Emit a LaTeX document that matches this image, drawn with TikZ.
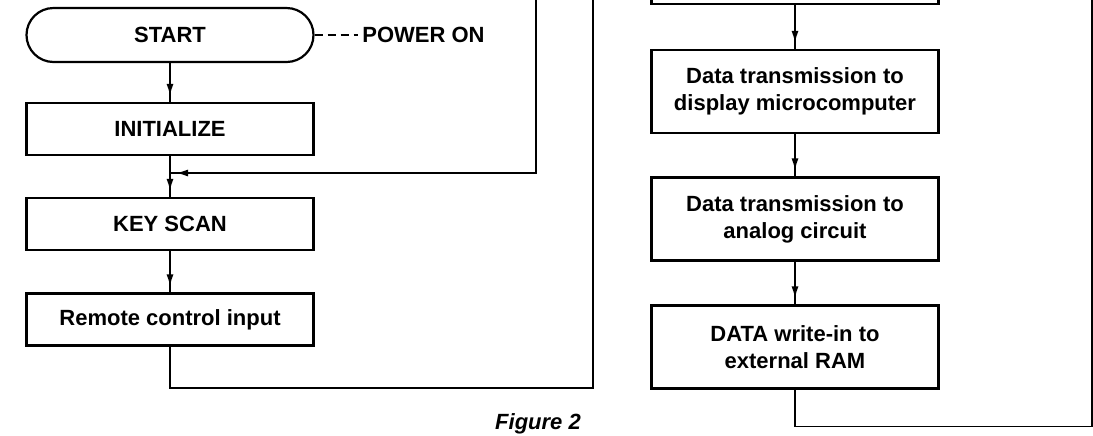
\documentclass[tikz,border=0pt]{standalone}
\usepackage{fontspec}
\setmainfont{Liberation Sans}
\usetikzlibrary{arrows.meta, positioning, decorations.markings}

\begin{document}
\begin{tikzpicture}[
    x=0.5pt, y=-0.5pt,
    box/.style={draw, line width=1.1pt, minimum width=143.5pt, minimum height=26pt, inner sep=0pt, align=center, font=\fontsize{11}{13.5}\selectfont\bfseries},
    tallbox/.style={box, minimum height=41.5pt},
    term/.style={box, rounded corners=13.5pt, minimum height=27pt},
    flow/.style={line width=0.8pt, postaction={decorate}, decoration={markings, mark=at position -3pt with {\arrow{Latex[length=6pt, width=3.5pt]}}}},
    link/.style={line width=0.8pt},
]
\useasboundingbox (0,0) rectangle (1093,435);

% left column
\node[term] (start) at (170, 35) {START};
\node[box] (init) at (170, 129) {INITIALIZE};
\node[box] (scan) at (170, 224) {KEY SCAN};
\node[box] (remote) at (170, 319.5) {Remote control input};
\node[anchor=west, inner sep=2pt, font=\fontsize{11}{13.5}\selectfont\bfseries] (power) at (358, 35) {POWER ON};

% right column
\node[tallbox] (prev) at (795, -37.5) {};
\node[tallbox] (disp) at (795, 91.5) {Data transmission to\\display microcomputer};
\node[tallbox] (analog) at (795, 219) {Data transmission to\\analog circuit};
\node[tallbox] (ram) at (795, 347) {DATA write-in to\\external RAM};

\node[anchor=base, font=\fontsize{11}{13.5}\selectfont\bfseries\itshape] (caption) at (538, 429) {Figure 2};

\coordinate (join) at (170, 173);
\coordinate (loopin) at (536, -10);
\coordinate (loopout) at (593, -10);
\coordinate (wrap) at (1092, -10);

\draw[link, dash pattern=on 4pt off 2.5pt] (start.east) -- (power.west);
\draw[flow] (start) -- (init);
\draw[flow] (init) -- (scan);
\draw[flow] (loopin) |- (join);
\draw[flow] (scan) -- (remote);
\draw[link] (remote.south) -- ++(0, 41.5) -| (loopout);

\draw[flow] (prev) -- (disp);
\draw[flow] (disp) -- (analog);
\draw[flow] (analog) -- (ram);
\draw[link] (ram.south) -- ++(0, 37) -| (wrap);

\end{tikzpicture}
\end{document}
